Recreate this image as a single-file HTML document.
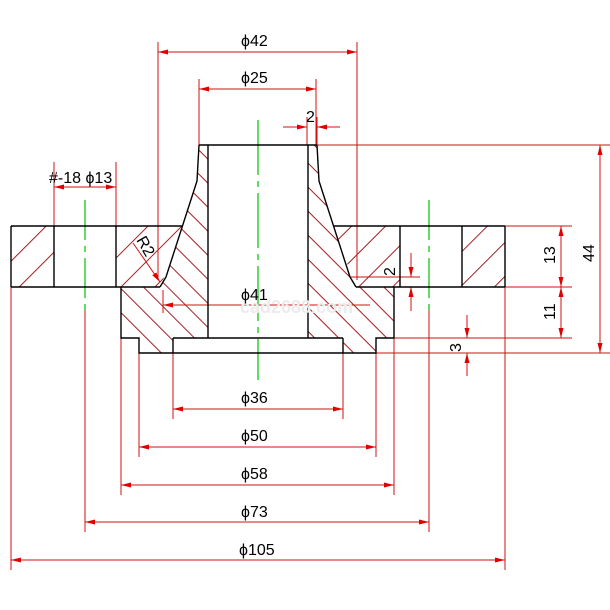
<!DOCTYPE html>
<html><head><meta charset="utf-8"><style>
html,body{margin:0;padding:0;background:#fff;}
svg{display:block;}
text{font-family:"Liberation Sans",sans-serif;font-size:16px;fill:#000;}
</style></head><body>
<svg width="610" height="610" viewBox="0 0 610 610" xmlns="http://www.w3.org/2000/svg">
<defs>
<marker id="a" viewBox="0 0 10 6" refX="10" refY="3" markerWidth="10" markerHeight="6" markerUnits="userSpaceOnUse" orient="auto-start-reverse">
<path d="M0,0.5 L10,3 L0,5.5 z" fill="#e00000"/>
</marker>
<pattern id="hb" width="17" height="17" patternUnits="userSpaceOnUse" patternTransform="rotate(-45)">
<rect x="0" y="0" width="1" height="17" fill="#a02020"/>
</pattern>
<pattern id="hf" width="24" height="24" patternUnits="userSpaceOnUse" patternTransform="rotate(45)">
<rect x="0" y="0" width="1" height="24" fill="#a02020"/>
</pattern>
</defs>

<g>
<polygon points="11,226 54,226 54,287 11,287" fill="url(#hf)"/>
<polygon points="116,226 182,226 162,283 160,287 116,287" fill="url(#hf)"/>
<polygon points="199,145 208,145 208,338 173,338 173,353 139,353 139,338 121,338 121,287 160,287 166,277 197,181" fill="url(#hb)"/>
<polygon points="505,226 462,226 462,287 505,287" fill="url(#hf)"/>
<polygon points="400,226 334,226 354,283 356,287 400,287" fill="url(#hf)"/>
<polygon points="317,145 308,145 308,338 343,338 343,353 376,353 376,338 394,338 394,287 356,287 350,277 319,181" fill="url(#hb)"/>
</g>

<g stroke="#d01010" stroke-width="1" fill="none">
<line x1="158" y1="42" x2="158" y2="280"/>
<line x1="357" y1="42" x2="357" y2="280"/>
<line x1="199" y1="79" x2="199" y2="145"/>
<line x1="316" y1="79" x2="316" y2="145"/>
<line x1="307" y1="117" x2="307" y2="145"/>
<line x1="317" y1="117" x2="317" y2="145"/>
<line x1="54" y1="162" x2="54" y2="226"/>
<line x1="116" y1="162" x2="116" y2="226"/>
<line x1="317" y1="145" x2="610" y2="145"/>
<line x1="376" y1="353" x2="610" y2="353"/>
<line x1="505" y1="226" x2="572" y2="226"/>
<line x1="505" y1="287" x2="572" y2="287"/>
<line x1="394" y1="338" x2="572" y2="338"/>
<line x1="350" y1="277" x2="420" y2="277"/>
<line x1="11" y1="287" x2="11" y2="570"/>
<line x1="505" y1="287" x2="505" y2="570"/>
<line x1="85" y1="310" x2="85" y2="532"/>
<line x1="429" y1="310" x2="429" y2="532"/>
<line x1="121" y1="338" x2="121" y2="495"/>
<line x1="394" y1="338" x2="394" y2="495"/>
<line x1="139" y1="353" x2="139" y2="457"/>
<line x1="376" y1="353" x2="376" y2="457"/>
<line x1="173" y1="353" x2="173" y2="419"/>
<line x1="343" y1="353" x2="343" y2="419"/>
<line x1="163" y1="290" x2="163" y2="313"/>
</g>
<g stroke="#d01010" stroke-width="1" fill="none" marker-start="url(#a)" marker-end="url(#a)">
<line x1="158" y1="52" x2="357" y2="52"/>
<line x1="199" y1="89" x2="316" y2="89"/>
<line x1="54" y1="187" x2="116" y2="187"/>
<line x1="600" y1="145" x2="600" y2="353"/>
<line x1="561" y1="226" x2="561" y2="287"/>
<line x1="561" y1="287" x2="561" y2="338"/>
<line x1="173" y1="409" x2="343" y2="409"/>
<line x1="139" y1="447" x2="376" y2="447"/>
<line x1="121" y1="485" x2="394" y2="485"/>
<line x1="85" y1="522" x2="429" y2="522"/>
<line x1="11" y1="560" x2="505" y2="560"/>
</g>
<g stroke="#d01010" stroke-width="1" fill="none" marker-end="url(#a)">
<line x1="283" y1="127" x2="307" y2="127"/>
<line x1="340" y1="127" x2="317" y2="127"/>
<line x1="370" y1="305" x2="163" y2="305"/>
<line x1="411" y1="253" x2="411" y2="277"/>
<line x1="411" y1="311" x2="411" y2="287"/>
<line x1="467" y1="315" x2="467" y2="338"/>
<line x1="467" y1="376" x2="467" y2="353"/>
<line x1="133" y1="243" x2="160" y2="282"/>
</g>

<g stroke="#00c000" stroke-width="1.2" fill="none">
<line x1="258" y1="120" x2="258" y2="380" stroke-dasharray="55,6,6,6"/>
<line x1="85" y1="200" x2="85" y2="310" stroke-dasharray="40,6,6,6"/>
<line x1="429" y1="200" x2="429" y2="310" stroke-dasharray="40,6,6,6"/>
</g>

<g stroke="#000" stroke-width="1.4" fill="none">
<line x1="11" y1="226" x2="11" y2="287"/>
<line x1="505" y1="226" x2="505" y2="287"/>
<line x1="54" y1="226" x2="54" y2="287"/>
<line x1="116" y1="226" x2="116" y2="287"/>
<line x1="400" y1="226" x2="400" y2="287"/>
<line x1="462" y1="226" x2="462" y2="287"/>
<line x1="199" y1="145" x2="317" y2="145"/>
<line x1="208" y1="145" x2="208" y2="338"/>
<line x1="308" y1="145" x2="308" y2="338"/>
<polyline points="199,145 197,181 166,277 160,287"/>
<polyline points="317,145 319,181 350,277 356,287"/>
<polyline points="121,287 121,338 139,338 139,353 376,353 376,338 394,338 394,287"/>
<line x1="173" y1="338" x2="343" y2="338"/>
<line x1="173" y1="338" x2="173" y2="353"/>
<line x1="343" y1="338" x2="343" y2="353"/>
<line x1="11" y1="287" x2="160" y2="287"/>
<line x1="356" y1="287" x2="505" y2="287"/>
<line x1="11" y1="226" x2="182" y2="226"/>
<line x1="334" y1="226" x2="505" y2="226"/>
</g>

<text x="240" y="313" style="font-size:18px;fill:#ececec;font-weight:bold">cad2688.com</text>

<text x="241" y="46">ϕ42</text>
<text x="241" y="83">ϕ25</text>
<text x="306" y="122">2</text>
<text x="49" y="183">#-18 ϕ13</text>
<text x="241" y="300">ϕ41</text>
<text x="241" y="403">ϕ36</text>
<text x="241" y="441">ϕ50</text>
<text x="241" y="479">ϕ58</text>
<text x="241" y="517">ϕ73</text>
<text x="239" y="555">ϕ105</text>
<text transform="translate(136,240) rotate(60)">R2</text>
<text transform="translate(395,276) rotate(-90)">2</text>
<text transform="translate(555,264) rotate(-90)">13</text>
<text transform="translate(555,320) rotate(-90)">11</text>
<text transform="translate(461,352) rotate(-90)">3</text>
<text transform="translate(594,262) rotate(-90)">44</text>
</svg>
</body></html>
